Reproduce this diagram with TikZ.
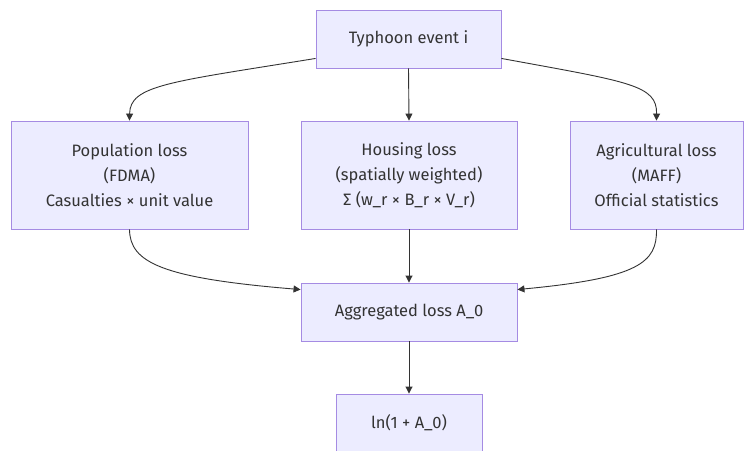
\documentclass[tikz,border=0pt]{standalone}
\usepackage{fontspec}
\setmainfont{Fira Sans}
\usetikzlibrary{arrows.meta,calc}
\definecolor{boxfill}{HTML}{ECECFF}
\definecolor{boxline}{HTML}{A58BE3}
\definecolor{txt}{HTML}{333333}
\begin{document}
\begin{tikzpicture}[x=1pt,y=-1pt,
  box/.style={draw=boxline,fill=boxfill,line width=0.9pt,text=txt,align=center,
    font=\fontsize{16.5}{25}\selectfont,inner sep=0pt},
  arr/.style={draw=txt,line width=0.9pt,-{Triangle[length=7pt,width=7pt]}}]
\useasboundingbox[fill=white] (0,0) rectangle (754,450);
\node[box,minimum width=185pt,minimum height=58pt] (typ) at (408.5,39) {Typhoon event i};
\node[box,minimum width=237pt,minimum height=108pt] (pop) at (129.5,175) {Population loss\\(FDMA)\\Casualties × unit value};
\node[box,minimum width=216pt,minimum height=108pt] (hou) at (409,175) {Housing loss\\(spatially weighted)\\Σ (w\_r × B\_r × V\_r)};
\node[box,minimum width=173pt,minimum height=108pt] (agr) at (656.5,175) {Agricultural loss\\(MAFF)\\Official statistics};
\node[box,minimum width=216pt,minimum height=58pt] (agg) at (409,312) {Aggregated loss A\_0};
\node[box,minimum width=146pt,minimum height=58pt] (ln) at (409,423) {ln(1 + A\_0)};
\coordinate (tl) at ($(typ.south west)+(0,-10)$);
\coordinate (tr) at ($(typ.south east)+(0,-10)$);
\coordinate (al) at ($(agg.north west)+(0,7)$);
\coordinate (ar) at ($(agg.north east)+(0,7)$);
\draw[arr] (tl) .. controls (170,82) and (130,85) .. (pop.north);
\draw[arr] (tr) .. controls (630,82) and (657,85) .. (agr.north);
\draw[arr] (typ.south) -- (hou.north);
\draw[arr] (pop.south) .. controls (130,262) and (160,278) .. (al);
\draw[arr] (agr.south) .. controls (657,262) and (640,278) .. (ar);
\draw[arr] (hou.south) -- (agg.north);
\draw[arr] (agg.south) -- (ln.north);
\end{tikzpicture}
\end{document}
